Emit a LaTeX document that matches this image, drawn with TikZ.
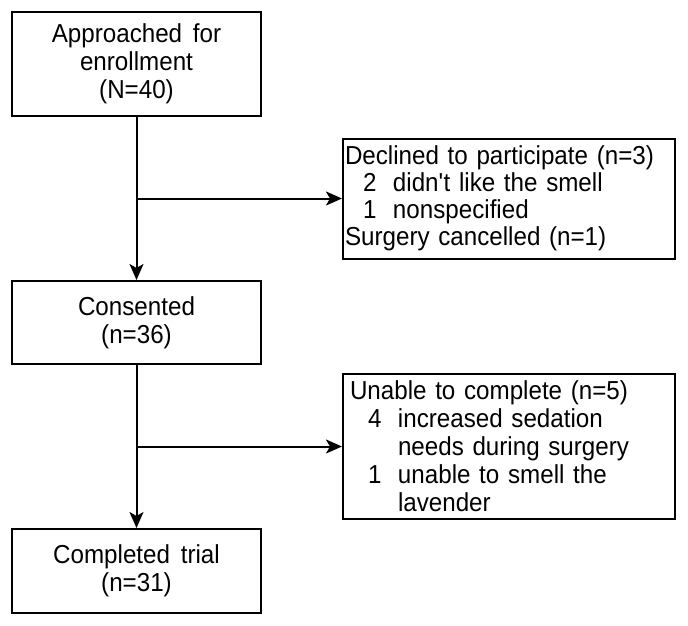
\documentclass[tikz,border=0pt]{standalone}
\usepackage{fontspec}
\setmainfont[WordSpace=1.6,FakeStretch=0.93]{Liberation Sans}
\usetikzlibrary{arrows.meta}
\newcommand\myitem[2]{\hspace*{18pt}\makebox[30pt][l]{#1}#2}
\newcommand\mycont[1]{\hspace*{48pt}#1}
\tikzset{
  txt/.style={font=\fontsize{26}{28}\selectfont},
  box/.style={txt, draw, line width=2pt, minimum width=249pt, align=center, inner sep=0pt},
  rbox/.style={txt, draw, line width=2pt, align=left, inner ysep=0pt},
  arr/.style={line width=2pt, -{Stealth[length=16pt,width=14pt,inset=4pt]}}
}
\begin{document}
\begin{tikzpicture}[x=1pt,y=-1pt]
\useasboundingbox (0,0) rectangle (688,626);
\node[box, minimum height=104pt] (a) at (136.5,64) {Approached for\\enrollment\\(N=40)};
\node[rbox, font=\fontsize{26}{27}\selectfont, inner xsep=2pt, text width=328pt, minimum height=120pt] (d) at (509,198.5)
  {Declined to participate (n=3)\\
   \myitem{2}{didn\textquotesingle t like the smell}\\
   \myitem{1}{nonspecified}\\
   Surgery cancelled (n=1)};
\node[box, minimum height=83pt] (c) at (136.5,322.5) {Consented\\(n=36)};
\node[rbox, inner xsep=7pt, text width=318pt, minimum height=145pt] (u) at (509,446.5)
  {Unable to complete (n=5)\\
   \myitem{4}{increased sedation}\\
   \mycont{needs during surgery}\\
   \myitem{1}{unable to smell the}\\
   \mycont{lavender}};
\node[box, minimum height=84pt] (t) at (136.5,571) {Completed trial\\(n=31)};
\draw[arr] (a) -- (c);
\coordinate (j1) at (a.south |- d.west);
\draw[arr] (j1) -- (d.west);
\draw[arr] (c) -- (t);
\coordinate (j2) at (c.south |- u.west);
\draw[arr] (j2) -- (u.west);
\end{tikzpicture}
\end{document}
